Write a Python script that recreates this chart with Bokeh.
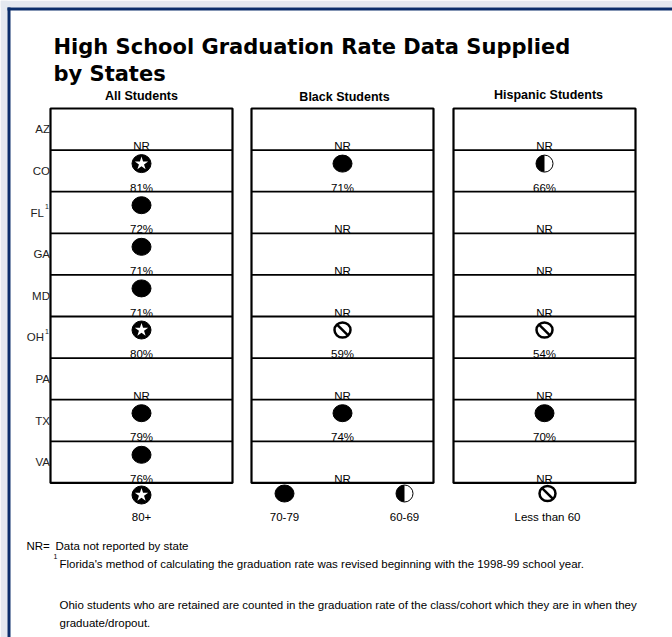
import math
from bokeh.plotting import figure
from bokeh.models import Range1d
from bokeh.core.properties import value
from bokeh.embed import file_html
from bokeh.resources import INLINE

# ---------------- data ----------------
title_lines = ["High School Graduation Rate Data Supplied", "by States"]
states = ["AZ", "CO", "FL", "GA", "MD", "OH", "PA", "TX", "VA"]
state_notes = ["", "", "1", "", "", "1", "", "", ""]
groups = ["All Students", "Black Students", "Hispanic Students"]
all_students = [None, 81, 72, 71, 71, 80, None, 79, 76]
black_students = [None, 71, None, None, None, 59, None, 74, None]
hispanic_students = [None, 66, None, None, None, 54, None, 70, None]
legend_labels = ["80+", "70-79", "60-69", "Less than 60"]
legend_cats = ["star", "full", "half", "none"]
nr_note = ["NR=", "Data not reported by state"]
fl_note = "Florida's method of calculating the graduation rate was revised beginning with the 1998-99 school year."
oh_note = ["Ohio students who are retained are counted in the graduation rate of the class/cohort which they are in when they",
           "graduate/dropout."]

series = [all_students, black_students, hispanic_students]

def category(v):
    if v is None:
        return "nr"
    if v >= 80:
        return "star"
    if v >= 70:
        return "full"
    if v >= 60:
        return "half"
    return "none"

# ---------------- layout (page pixel space) ----------------
W, H = 672, 637
col_left = [50, 251, 453]
col_w = 182
head_x = [141, 344, 548]
row_top0 = 108
row_h = 41.6
n_rows = len(states)
SANS = value("Liberation Sans")
TITLE = value("DejaVu Sans")
BLUE = "#0b2d6b"
GRAY = "#e4e8f0"

p = figure(width=W, height=H, output_backend="svg", toolbar_location=None,
           x_range=Range1d(0, W), y_range=Range1d(H, 0),
           x_axis_location=None, y_axis_location=None, min_border=0,
           background_fill_color="white", border_fill_color="white",
           outline_line_color=None)
p.xgrid.visible = False
p.ygrid.visible = False

# page background strips and card border (top and left)
p.quad(left=[0, 0], right=[7, W], top=[0, 0], bottom=[H, 7], fill_color=GRAY, line_color=None)
p.quad(left=[7, 7], right=[10, W], top=[7, 7], bottom=[H, 10], fill_color=BLUE, line_color=None)

# title
for i, t in enumerate(title_lines):
    p.text(x=[53], y=[46 + 27 * i], text=[t], text_font=TITLE, text_font_style="bold",
           text_font_size="21px", text_color="black", text_baseline="middle")

# column headers
p.text(x=head_x, y=[95, 96, 94], text=groups, text_font=SANS, text_font_style="bold",
       text_font_size="12.5px", text_align="center", text_baseline="middle", text_color="black")

# table boxes
table_bottom = row_top0 + row_h * n_rows
p.quad(left=col_left, right=[c + col_w for c in col_left], top=[row_top0] * 3,
       bottom=[table_bottom] * 3, fill_color=None, line_color="black", line_width=2.2)
sx0, sy0, sx1 = [], [], []
for c in col_left:
    for r in range(1, n_rows):
        sx0.append(c)
        sx1.append(c + col_w)
        sy0.append(row_top0 + row_h * r)
p.segment(x0=sx0, y0=sy0, x1=sx1, y1=sy0, line_color="black", line_width=1.8)

# state labels
for r, (s, n) in enumerate(zip(states, state_notes)):
    yc = row_top0 + row_h * (r + 0.5)
    if n:
        p.text(x=[43.5], y=[yc], text=[s], text_font=SANS, text_font_size="11.5px",
               text_align="right", text_baseline="middle", text_color="#222222")
        p.text(x=[44.5], y=[yc - 6], text=[n], text_font=SANS, text_font_size="7px",
               text_align="left", text_baseline="middle", text_color="#222222")
    else:
        p.text(x=[49.5], y=[yc], text=[s], text_font=SANS, text_font_size="11.5px",
               text_align="right", text_baseline="middle", text_color="#222222")

# symbol collections
sym = {"star": ([], []), "full": ([], []), "half": ([], []), "none": ([], [])}
tx, ty, tt = [], [], []
for ci, vals in enumerate(series):
    cx = col_left[ci] + col_w / 2
    for r, v in enumerate(vals):
        top = row_top0 + row_h * r
        bottom = top + row_h
        cat = category(v)
        tx.append(cx)
        ty.append(bottom - 4)
        if cat == "nr":
            tt.append("NR")
        else:
            tt.append(f"{v}%")
            sym[cat][0].append(cx)
            sym[cat][1].append(top + 13.5)

leg_x = [141, 284, 404, 547]
leg_y = 493
for lx, lc in zip(leg_x, legend_cats):
    sym[lc][0].append(lx)
    sym[lc][1].append(leg_y + (1.5 if lc == "star" else 0))

p.text(x=tx, y=ty, text=tt, text_font=SANS, text_font_size="11.5px", text_align="center",
       text_baseline="middle", text_color="black")

# star in black disc
xs, ys = sym["star"]
p.ellipse(x=xs, y=ys, width=19, height=18, fill_color="black", line_color="black")
p.scatter(x=xs, y=ys, marker="star", size=14, fill_color="white", line_color=None)
# full disc
xs, ys = sym["full"]
p.ellipse(x=xs, y=ys, width=19, height=17, fill_color="black", line_color="black")
# half disc (left half black)
xs, ys = sym["half"]
p.wedge(x=xs, y=ys, radius=8.5, start_angle=math.pi / 2, end_angle=3 * math.pi / 2,
        fill_color="black", line_color=None)
p.ellipse(x=xs, y=ys, width=17, height=17, fill_color=None, line_color="black", line_width=1)
# prohibition sign
xs, ys = sym["none"]
p.ellipse(x=xs, y=ys, width=16, height=15, fill_color="white", line_color="black", line_width=2.5)
d = 5.2
p.segment(x0=[x - d for x in xs], y0=[y - d for y in ys], x1=[x + d for x in xs], y1=[y + d for y in ys],
          line_color="black", line_width=2.5)

# legend labels
p.text(x=leg_x, y=[516] * 4, text=legend_labels, text_font=SANS, text_font_size="11.5px",
       text_align="center", text_baseline="middle", text_color="black")

# footnotes
FN = "11.5px"
p.text(x=[26], y=[545], text=[nr_note[0]], text_font=SANS, text_font_size=FN,
       text_baseline="middle", text_color="black")
p.text(x=[55], y=[545], text=[nr_note[1]], text_font=SANS, text_font_size=FN,
       text_baseline="middle", text_color="black")
p.text(x=[53], y=[556], text=["1"], text_font=SANS, text_font_size="7px",
       text_baseline="middle", text_color="black")
p.text(x=[59], y=[563], text=[fl_note], text_font=SANS, text_font_size=FN,
       text_baseline="middle", text_color="black")
p.text(x=[59, 59], y=[604, 622], text=oh_note, text_font=SANS, text_font_size=FN,
       text_baseline="middle", text_color="black")

open("out.html", "w").write(file_html(p, INLINE))
